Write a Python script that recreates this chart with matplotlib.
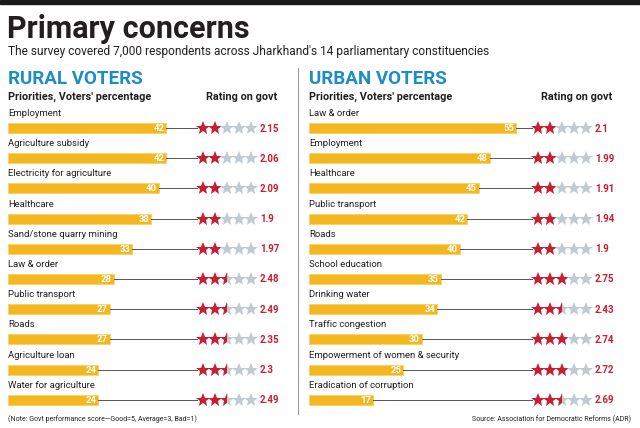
import matplotlib.pyplot as plt
import numpy as np

# dados
rural_labels = ['Employment', 'Agriculture subsidy', 'Electricity for agriculture', 'Healthcare',
                'Sand/stone quarry mining', 'Law & order', 'Public transport', 'Roads',
                'Agriculture loan', 'Water for agriculture']
rural_pct = [42, 42, 40, 38, 33, 28, 27, 27, 24, 24]
rural_rating = ['2.15', '2.06', '2.09', '1.9', '1.97', '2.48', '2.49', '2.35', '2.3', '2.49']
rural_stars = [2, 2, 2, 2, 2, 2.5, 2.5, 2.5, 2.5, 2.5]

urban_labels = ['Law & order', 'Employment', 'Healthcare', 'Public transport', 'Roads',
                'School education', 'Drinking water', 'Traffic congestion',
                'Empowerment of women & security', 'Eradication of corruption']
urban_pct = [55, 48, 45, 42, 40, 35, 34, 30, 25, 17]
urban_rating = ['2.1', '1.99', '1.91', '1.94', '1.9', '2.75', '2.43', '2.74', '2.72', '2.69']
urban_stars = [2, 2, 2, 2, 2, 3, 2.5, 3, 3, 2.5]

FONT = ['Liberation Sans Narrow', 'Roboto', 'DejaVu Sans']
plt.rcParams['font.family'] = FONT

GOLD = '#F5B71F'
RED = '#C81E32'
GREY_STAR = '#BFCBD3'
BLUE = '#1D8DC4'
TXT = '#231F20'

fig = plt.figure(figsize=(6.4, 4.28), dpi=100)
ax = fig.add_axes([0, 0, 1, 1])
ax.set_xlim(0, 640)
ax.set_ylim(428, 0)
ax.axis('off')

# faixa preta no topo
ax.axhspan(0, 4, color='#1a1a1a')

ax.text(7, 38, 'Primary concerns', fontsize=22, fontweight='bold', color=TXT, va='baseline')
ax.text(8, 55, "The survey covered 7,000 respondents across Jharkhand's 14 parliamentary constituencies",
        fontsize=8.6, color=TXT, va='baseline')

# divisor vertical
ax.plot([298, 298], [68, 414], color='#9a9a9a', lw=0.8)

scale = 3.77
row0 = 128
step = 30.2


def painel(x0, title, labels, pct, rating, stars, rate_x, star_x):
    ax.text(x0, 84, title, fontsize=13.5, fontweight='bold', color=BLUE, va='baseline')
    ax.text(x0, 100, "Priorities, Voters' percentage", fontsize=7.8, fontweight='bold',
            color=TXT, va='baseline')
    ax.text(rate_x, 100, 'Rating on govt', fontsize=7.8, fontweight='bold', color=TXT,
            va='baseline', ha='right')
    ys = row0 + np.arange(len(labels)) * step
    widths = np.array(pct) * scale
    ax.barh(ys, widths, left=x0, height=10, color=GOLD, edgecolor='#F8D266', lw=0.6)
    for y, w, lab, v, r, s in zip(ys, widths, labels, pct, rating, stars):
        ax.text(x0, y - 12, lab, fontsize=6.8, color=TXT, va='baseline')
        ax.text(x0 + w - 2, y + 0.5, str(v), fontsize=6.8, fontweight='bold', color='white',
                ha='right', va='center')
        ax.plot([x0 + w, star_x - 6], [y, y], color='#555555', lw=0.7, zorder=1)
        for k in range(5):
            cx = star_x + k * 12
            if k + 1 <= s:
                ax.plot(cx, y, marker='*', ms=10.5, color=RED, mew=0)
            elif k + 0.5 <= s:
                ax.plot(cx, y, marker='*', ms=10.5, fillstyle='left', markerfacecolor=RED,
                        markerfacecoloralt=GREY_STAR, mew=0)
            else:
                ax.plot(cx, y, marker='*', ms=10.5, color=GREY_STAR, mew=0)
        ax.text(star_x + 57, y + 0.5, r, fontsize=7, fontweight='bold', color=RED, va='center')


painel(8, 'RURAL VOTERS', rural_labels, rural_pct, rural_rating, rural_stars, 277, 203)
painel(309, 'URBAN VOTERS', urban_labels, urban_pct, urban_rating, urban_stars, 612, 538)

ax.text(8, 421, '(Note: Govt performance score\u2014Good=5, Average=3, Bad=1)', fontsize=5,
        color=TXT, va='baseline')
ax.text(631, 421, 'Source: Association for Democratic Reforms (ADR)', fontsize=5,
        color=TXT, va='baseline', ha='right')

plt.savefig('out.png', dpi=100)
